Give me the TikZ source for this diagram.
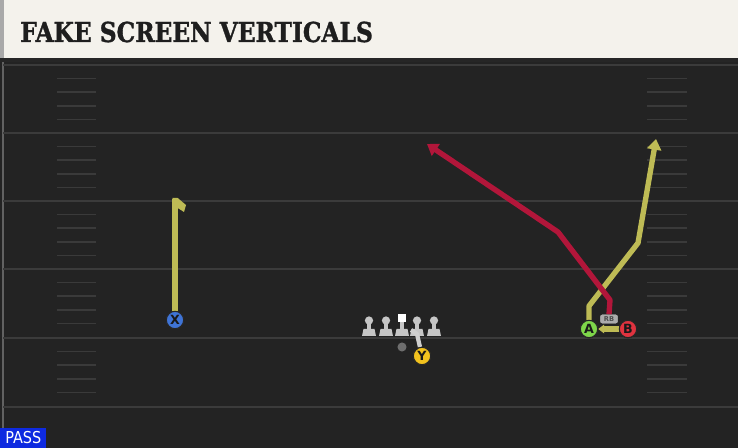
\documentclass[tikz,border=0pt]{standalone}
\usepackage{fontspec}
\setmainfont{DejaVu Sans}
\newfontfamily\titlefont{DejaVu Serif}[FakeStretch=0.85,FakeBold=1.2]
\newfontfamily\passfont{DejaVu Sans}[FakeStretch=0.88]
\usetikzlibrary{arrows.meta}

\definecolor{fieldgray}{HTML}{232323}
\definecolor{yardgray}{HTML}{3B3B3B}
\definecolor{hashgray}{HTML}{3A3A3A}
\definecolor{titlecream}{HTML}{F4F2EC}
\definecolor{titleink}{HTML}{1E1E1E}
\definecolor{stripegray}{HTML}{A9A9A9}
\definecolor{routeolive}{HTML}{BEBB55}
\definecolor{routered}{HTML}{B2163A}
\definecolor{xblue}{HTML}{3F74D6}
\definecolor{yyellow}{HTML}{F2C21E}
\definecolor{agreen}{HTML}{7ED64A}
\definecolor{bred}{HTML}{E0333F}
\definecolor{linegray}{HTML}{C6C6C6}
\definecolor{qbgray}{HTML}{6E6E6E}
\definecolor{passblue}{HTML}{0E2AE0}

\tikzset{
    yardline/.style={draw=yardgray, line width=1.5pt},
    hashmark/.style={draw=hashgray, line width=1.3pt},
    player/.style={circle, draw=black!85, line width=0.8pt, minimum size=13pt,
        inner sep=0pt, font=\bfseries\fontsize{9.5}{9.5}\selectfont, text=black!90},
    route/.style={draw=routeolive, line width=4pt, line join=round},
    redroute/.style={draw=routered, line width=4pt, line join=round},
    block/.style={draw=linegray!85, line width=3.2pt, line join=round},
    olhead/.style={circle, fill=linegray, inner sep=0pt, minimum size=6.2pt},
    rbtag/.style={fill=gray!65, rounded corners=1.5pt, inner sep=0pt,
        minimum width=13pt, minimum height=6.5pt,
        font=\bfseries\fontsize{5}{5}\selectfont, text=black!70},
    bigtip/.style={-{Triangle[length=8pt,width=10.5pt]}},
    smalltip/.style={-{Triangle[length=4.5pt,width=6.5pt]}}
}

\begin{document}
\begin{tikzpicture}[x=0.75pt,y=-0.75pt]
    \useasboundingbox (0,0) rectangle (738,448);
    % field
    \fill[fieldgray] (0,0) rectangle (738,448);
    \draw[yardgray!80, line width=1pt] (3,60) -- (3,448);
    \foreach \yl in {65,133,201,269,338,407}
        \draw[yardline] (3,\yl) -- (738,\yl);
    \foreach \yb in {65,133,201,269,338}
        \foreach \k in {1,...,4} {
            \draw[hashmark] (57,\yb+13.6*\k) -- (96,\yb+13.6*\k);
            \draw[hashmark] (647,\yb+13.6*\k) -- (687,\yb+13.6*\k);
        }

    % title bar
    \fill[black!85] (0,57) rectangle (738,62);
    \fill[titlecream] (3,0) rectangle (738,58);
    \fill[stripegray] (0,0) rectangle (4,58);
    \node[anchor=base west, inner sep=0pt, text=titleink,
        font=\titlefont\bfseries\fontsize{20.6}{24}\selectfont] (title) at (20,42) {FAKE SCREEN VERTICALS};

    % line and backfield
    \foreach \px/\nm in {369/lt,386/lg,417/rg,434/rt} {
        \fill[linegray] (\px-7,336) -- (\px-5.5,329) -- (\px+5.5,329) -- (\px+7,336) -- cycle;
        \fill[linegray] (\px-2,322) rectangle (\px+2,330);
        \node[olhead] (\nm) at (\px,320.5) {};
    }
    \fill[linegray] (395,336) -- (396.5,329) -- (407.5,329) -- (409,336) -- cycle;
    \fill[linegray] (400,322) rectangle (404,330);
    \node[fill=white, inner sep=0pt, minimum size=6pt] (c) at (402,318.5) {};
    \node[circle, fill=qbgray, inner sep=0pt, minimum size=6.8pt] (qb) at (402,347) {};

    % routes
    \coordinate (xtop) at (175,199);
    \coordinate (yblk) at (417,334);
    \coordinate (yend) at (411,330);
    \coordinate (aup) at (589,306);
    \coordinate (abend) at (638,243);
    \coordinate (atip) at (656,139);
    \coordinate (rbup) at (610,300);
    \coordinate (rbbend) at (558,232);
    \coordinate (redtip) at (427,144);

    \node[player, fill=xblue] (X) at (175,320) {X};
    \node[player, fill=yyellow] (Y) at (422,356) {Y};
    \node[player, fill=agreen] (A) at (589,329) {A};
    \node[player, fill=bred] (B) at (628,329) {B};
    \node[rbtag] (RB) at (609,319) {RB};

    \draw[route] (X) -- (xtop);
    \fill[routeolive] (172.3,198) -- (177.7,198) -- (186,205) -- (184,212) -- (177.7,208) -- cycle;
    \draw[block] (Y) -- (yblk) -- (yend);
    \draw[route, bigtip] (A) -- (aup) -- (abend) -- (atip);
    \draw[route, smalltip] (B) -- (A);
    \draw[redroute, bigtip] (RB.north) -- (rbup) -- (rbbend) -- (redtip);

    % players on top
    \node[player, fill=xblue] at (X) {X};
    \node[player, fill=yyellow] at (Y) {Y};
    \node[player, fill=agreen] at (A) {A};
    \node[player, fill=bred] at (B) {B};
    \node[rbtag] at (RB) {RB};

    % play type
    \node[anchor=south west, fill=passblue, text=white, inner sep=0pt,
        minimum width=34.5pt, minimum height=15pt,
        font=\passfont\fontsize{12.3}{13}\selectfont] (pass) at (0,448) {PASS};
\end{tikzpicture}
\end{document}
